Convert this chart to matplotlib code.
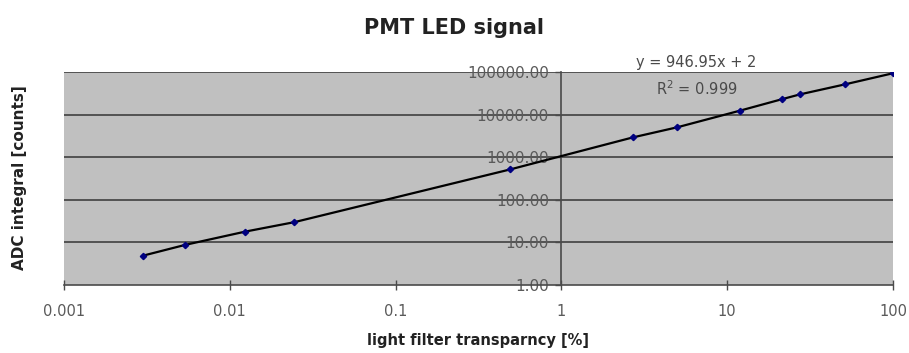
import numpy as np
import matplotlib
matplotlib.use("Agg")
import matplotlib.pyplot as plt
from matplotlib.ticker import FixedLocator, FixedFormatter

plt.rcParams['font.family'] = ['DejaVu Sans']

# data
transparency = [0.003, 0.0054, 0.0124, 0.0245, 0.49, 2.7, 5.0, 11.9, 21.3, 27.5, 51.3, 100.0]
adc_counts = [4.9, 8.8, 18, 30, 520, 2950, 5100, 12500, 23200, 30300, 52000, 95000]
x_ticks = [0.001, 0.01, 0.1, 1, 10, 100]
x_tick_labels = ["0.001", "0.01", "0.1", "1", "10", "100"]
y_ticks = [1, 10, 100, 1000, 10000, 100000]
y_tick_labels = ["1.00", "10.00", "100.00", "1000.00", "10000.00", "100000.00"]

W, H = 909, 353
fig = plt.figure(figsize=(W/100, H/100), dpi=100)
ax = fig.add_axes([64/W, 1-285/H, (893-64)/W, (285-72.3)/H])
ax.set_facecolor('#c0c0c0')
ax.set_xscale('log')
ax.set_yscale('log')
ax.set_xlim(0.001, 100)
ax.set_ylim(1, 100000)

for yv in y_ticks[1:]:
    ax.axhline(yv, color='#4a4a4a', lw=1.3, zorder=1)

ax.plot(transparency, adc_counts, color='black', lw=1.6, zorder=3)
ax.plot(transparency, adc_counts, linestyle='none', marker='D', ms=3.2,
        color='#000080', zorder=4)

for s in ['top', 'right']:
    ax.spines[s].set_visible(False)
ax.spines['left'].set_position(('data', 1))
ax.spines['left'].set_color('#4a4a4a')
ax.spines['left'].set_linewidth(1.2)
ax.spines['bottom'].set_color('#4a4a4a')
ax.spines['bottom'].set_linewidth(1.2)

ax.xaxis.set_major_locator(FixedLocator(x_ticks))
ax.xaxis.set_major_formatter(FixedFormatter(x_tick_labels))
ax.yaxis.set_major_locator(FixedLocator(y_ticks))
ax.yaxis.set_major_formatter(FixedFormatter(y_tick_labels))
ax.minorticks_off()
ax.tick_params(axis='x', direction='inout', length=7, width=1, color='#4a4a4a',
               labelsize=10.5, labelcolor='#5a5a5a', pad=10)
ax.tick_params(axis='y', direction='out', length=4, width=1, color='#4a4a4a',
               labelsize=11, labelcolor='#5a5a5a', pad=5)

fig.text(696/W, 1-63/H, "y = 946.95x + 2", fontsize=10.5, color='#4a4a4a',
         ha='center', va='center')
fig.text(697/W, 1-89/H, "R$^2$ = 0.999", fontsize=10.5, color='#4a4a4a',
         ha='center', va='center')

fig.text(0.5, 1-28/H, "PMT LED signal", ha='center', va='center',
         fontsize=15, fontweight='bold', color='#222222')
fig.text(478/W, 1-340/H, "light filter transparncy [%]", ha='center', va='center',
         fontsize=10.5, fontweight='bold', color='#222222')
fig.text(20/W, 1-178/H, "ADC integral [counts]", ha='center', va='center',
         rotation=90, fontsize=11, fontweight='bold', color='#222222')

fig.savefig('out.png', dpi=100)
